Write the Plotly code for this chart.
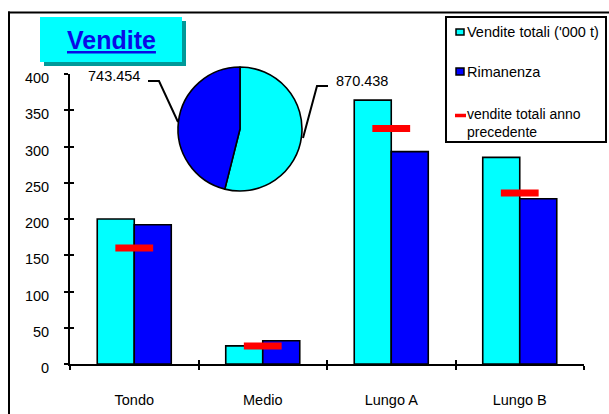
import plotly.graph_objects as go

# ---- data ----
categories = ["Tondo", "Medio", "Lungo A", "Lungo B"]
vendite_totali = [200, 25, 364, 285]
rimanenza = [192, 32, 293, 228]
vendite_anno_prec = [160, 25, 325, 236]
series_names = ["Vendite totali ('000 t)", "Rimanenza", "vendite totali anno<br>precedente"]
pie_values = [870.438, 743.454]
title_text = "Vendite"
y_ticks = [0, 50, 100, 150, 200, 250, 300, 350, 400]

CYAN = "#00FFFF"
BLUE = "#0000FF"
RED = "#FF0000"
FONT = "Liberation Sans, Arial, sans-serif"

# ---- layout geometry (pixels) ----
WIDTH, HEIGHT = 609, 414
L, R, TOP, B = 70, 584, 10, 364
AX_TOP = 74
W, H = R - L, B - TOP


def px(x):
    return (x - L) / W


def py(y):
    return (B - y) / H


fig = go.Figure()

fig.add_trace(go.Bar(x=categories, y=vendite_totali, name=series_names[0],
                     marker=dict(color=CYAN, line=dict(color="black", width=1.6)),
                     hoverinfo="x+y"))
fig.add_trace(go.Bar(x=categories, y=rimanenza, name=series_names[1],
                     marker=dict(color=BLUE, line=dict(color="black", width=1.6)),
                     hoverinfo="x+y"))
fig.add_trace(go.Scatter(x=categories, y=vendite_anno_prec, name=series_names[2],
                         mode="markers",
                         marker=dict(symbol="line-ew", size=27,
                                     line=dict(color=RED, width=7))))
# dummy trace for overlay axes (crossing ticks)
fig.add_trace(go.Scatter(x=categories, y=[None] * len(categories), xaxis="x2", yaxis="y2",
                         mode="markers", hoverinfo="skip"))

# pie inset
fig.add_trace(go.Pie(values=pie_values, labels=series_names[:2], sort=False,
                     direction="clockwise", rotation=0, textinfo="none",
                     marker=dict(colors=[CYAN, BLUE], line=dict(color="black", width=1.6)),
                     domain=dict(x=[px(178), px(302)], y=[py(191), py(67)])))

ydom = [0, (B - AX_TOP) / H]
axis_common = dict(showgrid=False, zeroline=False, linecolor="black", linewidth=2,
                   tickcolor="black", tickwidth=2, ticklen=4, automargin=False)

fig.update_layout(
    width=WIDTH, height=HEIGHT,
    margin=dict(l=L, r=WIDTH - R, t=TOP, b=HEIGHT - B),
    paper_bgcolor="white", plot_bgcolor="white",
    font=dict(family=FONT, size=14.5, color="black"),
    barmode="group", bargap=0.424, bargroupgap=0,
    showlegend=False,
    xaxis=dict(**axis_common, showline=True, ticks="outside", tickson="boundaries",
               type="category", range=[-0.5, 3.5], ticklabelstandoff=22,
               tickfont=dict(size=14.5)),
    yaxis=dict(**axis_common, showline=True, ticks="outside", range=[0, 400],
               domain=ydom, tickvals=y_ticks, ticklabelstandoff=12,
               ticklabelshift=4, tickfont=dict(size=14.5)),
    xaxis2=dict(**axis_common, overlaying="x", showline=False, ticks="inside",
                tickson="boundaries", type="category", range=[-0.5, 3.5],
                showticklabels=False, anchor="y2"),
    yaxis2=dict(**axis_common, overlaying="y", showline=False, ticks="inside",
                range=[0, 400], tickvals=y_ticks, showticklabels=False,
                anchor="x2", domain=ydom),
)

shapes = []
# outer frame (top and left edges; the rest lies outside the view)
shapes.append(dict(type="line", xref="paper", yref="paper",
                   x0=px(8), x1=px(640), y0=py(12.5), y1=py(12.5),
                   line=dict(color="black", width=2), layer="below"))
shapes.append(dict(type="line", xref="paper", yref="paper",
                   x0=px(9), x1=px(9), y0=py(11.5), y1=py(440),
                   line=dict(color="black", width=2), layer="below"))
# title box with shadow
shapes.append(dict(type="rect", xref="paper", yref="paper",
                   x0=px(44), x1=px(186), y0=py(66), y1=py(21),
                   fillcolor="#009999", line=dict(width=0)))
shapes.append(dict(type="rect", xref="paper", yref="paper",
                   x0=px(40), x1=px(182), y0=py(62), y1=py(17),
                   fillcolor=CYAN, line=dict(width=0)))
# legend box
shapes.append(dict(type="rect", xref="paper", yref="paper",
                   x0=px(446), x1=px(606), y0=py(142), y1=py(17),
                   fillcolor="white", line=dict(color="black", width=2)))
# legend swatches
shapes.append(dict(type="rect", xref="paper", yref="paper",
                   x0=px(456), x1=px(464), y0=py(35), y1=py(29),
                   fillcolor=CYAN, line=dict(color="black", width=1.5)))
shapes.append(dict(type="rect", xref="paper", yref="paper",
                   x0=px(456), x1=px(464), y0=py(75), y1=py(68),
                   fillcolor=BLUE, line=dict(color="black", width=1.5)))
shapes.append(dict(type="line", xref="paper", yref="paper",
                   x0=px(455), x1=px(466), y0=py(115.5), y1=py(115.5),
                   line=dict(color=RED, width=3.5)))
# pie leader lines
shapes.append(dict(type="path", xref="paper", yref="paper",
                   path=f"M {px(148)},{py(81)} L {px(159)},{py(81)} L {px(178)},{py(122)}",
                   line=dict(color="black", width=2)))
shapes.append(dict(type="path", xref="paper", yref="paper",
                   path=f"M {px(328)},{py(86)} L {px(317)},{py(86)} L {px(303)},{py(138)}",
                   line=dict(color="black", width=2)))
fig.update_layout(shapes=shapes)

ann = []


def label(x, y, text, xanchor="left", size=14.5, color="black"):
    ann.append(dict(x=px(x), y=py(y), xref="paper", yref="paper", showarrow=False,
                    xanchor=xanchor, yanchor="middle", text=text, align="left",
                    font=dict(family=FONT, size=size, color=color)))


label(111, 40, f"<u><b>{title_text}</b></u>", xanchor="center", size=25, color="#0A0AE6")
# pie value labels
label(142, 76, f"{pie_values[1]:.3f}", xanchor="right")
label(334, 81, f"{pie_values[0]:.3f}", xanchor="left")
# legend texts
label(465, 32, series_names[0])
label(465, 72, series_names[1])
label(465, 123, series_names[2], size=14)
fig.update_layout(annotations=ann)

fig.write_html(
    "out.html",
    config={"displayModeBar": False},
    post_script=("document.documentElement.style.overflow='hidden';"
                 "document.body.style.margin='0';"
                 "document.body.style.overflow='hidden';"),
)
